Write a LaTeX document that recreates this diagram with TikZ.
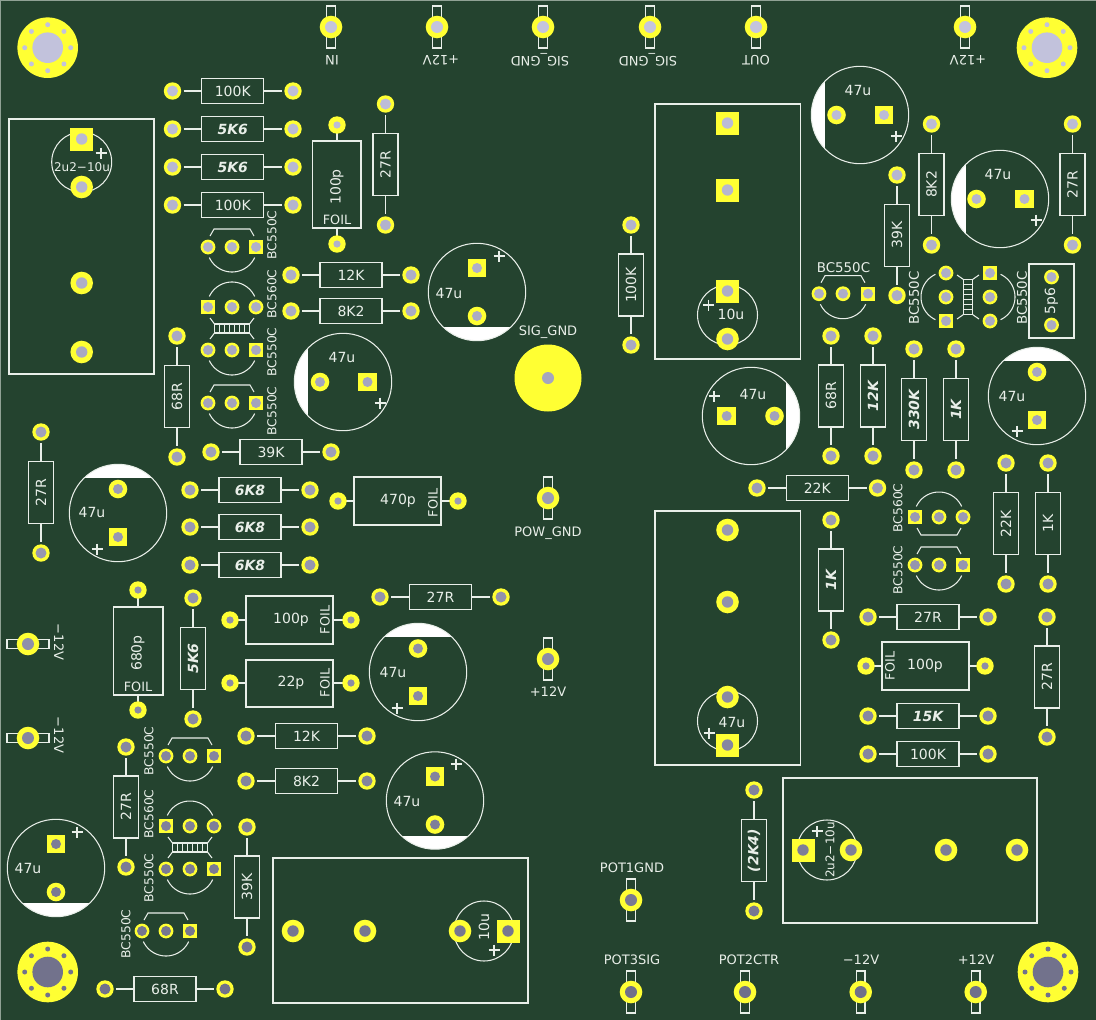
\documentclass[tikz,border=0pt]{standalone}
\usepackage{fontspec}
\setmainfont{DejaVu Sans}
\definecolor{board}{HTML}{24432F}
\definecolor{silk}{HTML}{E9EFE9}
\definecolor{copper}{HTML}{FFFF33}
\definecolor{holeA}{HTML}{C6C6E0}
\definecolor{holeB}{HTML}{6E6E88}
\newcount\nodeno
\tikzset{
  silkline/.style={draw=silk,line width=1.05pt},
  lbl/.style={text=silk,inner sep=0pt,font=\fontsize{13}{14}\selectfont},
  tl/.style={lbl,font=\fontsize{12.3}{13}\selectfont},
  tr/.style={lbl,font=\fontsize{13.4}{14}\selectfont},
  val/.style={lbl,font=\fontsize{14}{15}\selectfont},
  bval/.style={lbl,font=\fontsize{14}{15}\selectfont\bfseries\itshape},
  sml/.style={lbl,font=\fontsize{12}{13}\selectfont},
  foil/.style={lbl,font=\fontsize{12.8}{13}\selectfont},
}
\newcommand\Lab[4][]{\global\advance\nodeno by 1 \node[lbl,#1] (n\the\nodeno) at (#2,#3) {#4};}
\newcommand\HoleCol[1]{\pgfmathsetmacro\hct{max(0,min(100,(#1)/10.2))}\colorlet{hc}{holeB!\hct!holeA}}
\newcommand\RP[4]{\HoleCol{#2}\fill[copper] (#1,#2) circle[radius=#3];\fill[hc] (#1,#2) circle[radius=#4];}
\newcommand\SP[4]{\HoleCol{#2}\fill[copper] ({#1-#3/2},{#2-#3/2}) rectangle ({#1+#3/2},{#2+#3/2});\fill[hc] (#1,#2) circle[radius=#4];}
% resistors
\newcommand\ResH[5][val]{\pgfmathsetmacro\mc{(#2+#3)/2}
  \draw[silkline] ({#2+11},#4)--({\mc-31},#4) ({\mc+31},#4)--({#3-11},#4);
  \draw[silkline] ({\mc-31},{#4-12.5}) rectangle ({\mc+31},{#4+12.5});
  \RP{#2}{#4}{8.7}{5.5}\RP{#3}{#4}{8.7}{5.5}
  \Lab[#1]{\mc}{#4}{#5}}
\newcommand\ResV[5][val]{\pgfmathsetmacro\mc{(#3+#4)/2}
  \draw[silkline] (#2,{#3+11})--(#2,{\mc-31}) (#2,{\mc+31})--(#2,{#4-11});
  \draw[silkline] ({#2-12.5},{\mc-31}) rectangle ({#2+12.5},{\mc+31});
  \RP{#2}{#3}{8.7}{5.5}\RP{#2}{#4}{8.7}{5.5}
  \Lab[#1,rotate=90]{#2}{\mc}{#5}}
% connector pads with tab
\newcommand\ConV[2]{\draw[silkline] ({#1-4.3},{#2-21}) rectangle ({#1+4.3},{#2+21});\RP{#1}{#2}{11.3}{6}}
\newcommand\ConH[2]{\draw[silkline] ({#1-21},{#2-4.3}) rectangle ({#1+21},{#2+4.3});\RP{#1}{#2}{11.3}{6}}
% electrolytic: centre, band rectangle
\newcommand\Elec[6]{\begin{scope}\clip (#1,#2) circle[radius=48.7];\fill[white] (#3,#4) rectangle (#5,#6);\end{scope}
  \draw[silkline] (#1,#2) circle[radius=48.7];}
\newcommand\Plus[3][5.5]{\draw[draw=silk,line width=1.3pt] ({#2-#1},#3)--({#2+#1},#3) (#2,{#3-#1})--(#2,{#3+#1});}
\newcommand\SmallCap[2]{\draw[silkline] (#1,#2) circle[radius=30];}
% transistor shapes in a local frame
\newcommand\ArcPlot[2]{plot[domain=#1:#2,samples=30,smooth] ({25*cos(\x)},{25*sin(\x)})}
\newcommand\TOflat[3]{\begin{scope}[shift={(#1,#2)},rotate=#3]
  \draw[silkline] (-22,-11)--(-18,-18)--(18,-18)--(22,-11);
  \draw[silkline] \ArcPlot{25}{155};
  \end{scope}}
% heat-coupled pair, vertical stack: cx, upper y, lower y
\newcommand\PairV[3]{\pgfmathsetmacro\ym{(#2+#3)/2}
  \begin{scope}[shift={(#1,#2)}]\draw[silkline] \ArcPlot{205}{335};\end{scope}
  \begin{scope}[shift={(#1,#3)}]\draw[silkline] \ArcPlot{25}{155};\end{scope}
  \draw[silkline] ({#1-17.5},{\ym-4.5}) rectangle ({#1+17.5},{\ym+4.5});
  \foreach \k in {-12.5,-7.5,-2.5,2.5,7.5,12.5}{\draw[draw=silk,line width=.8pt] ({#1+\k},{\ym-4.5})--({#1+\k},{\ym+4.5});}
  \draw[silkline] ({#1-22},{#2+11})--({#1-17.5},{\ym-4.5}) ({#1+22},{#2+11})--({#1+17.5},{\ym-4.5});
  \draw[silkline] ({#1-22},{#3-11})--({#1-17.5},{\ym+4.5}) ({#1+22},{#3-11})--({#1+17.5},{\ym+4.5});}
\newcommand\TP[2]{\RP{#1}{#2}{7.4}{5}}
\newcommand\TS[2]{\SP{#1}{#2}{14.4}{5}}
\newcommand\EP[2]{\RP{#1}{#2}{9.3}{5}}
\newcommand\ES[2]{\SP{#1}{#2}{18.7}{5}}
\newcommand\BP[2]{\RP{#1}{#2}{11.3}{5.7}}
\newcommand\BS[2]{\SP{#1}{#2}{23}{5.7}}
\newcommand\Mount[2]{\HoleCol{#2}\fill[copper] (#1,#2) circle[radius=30.3];\fill[hc] (#1,#2) circle[radius=15.3];
  \foreach \a in {0,45,...,315}{\fill[hc] ({#1+23*cos(\a)},{#2+23*sin(\a)}) circle[radius=2.5];}}
\newcommand\FP[2]{\RP{#1}{#2}{8.7}{3.6}}
\begin{document}
\begin{tikzpicture}[x=1pt,y=-1pt]
\useasboundingbox (0,0) rectangle (1096,1020);
\fill[board] (0,0) rectangle (1096,1020);
\draw[draw=silk!55!board,line width=1pt] (0,.5)--(1096,.5) (.5,0)--(.5,1020);
% mounting
\Mount{47.7}{47.7}\Mount{1047}{47.7}\Mount{47.7}{972}\Mount{1048}{972}
\fill[copper] (548,378) circle[radius=33.5];\HoleCol{378}\fill[hc] (548,378) circle[radius=6];
% relay boxes
\draw[silkline] (9,119) rectangle (154,374);
\draw[silkline] (655,104) rectangle (800.5,359);
\draw[silkline] (655,511) rectangle (800.5,765);
\draw[silkline] (273,858) rectangle (528,1003);
\draw[silkline] (783,778) rectangle (1037,923);
\SmallCap{81.7}{162}\BS{81.7}{139}\BP{81.7}{187}\BP{81.7}{283}\BP{81.7}{352}
\Plus{101}{153}\Lab[sml]{82}{167}{2u2−10u}
\SmallCap{727.5}{315}\BS{727.5}{123}\BS{727.5}{190}\BS{727.5}{291}\BP{727.5}{339}
\Plus{708.7}{305}\Lab[val]{731}{314.5}{10u}
\SmallCap{727.5}{721}\BP{727.5}{530}\BP{727.5}{602}\BP{727.5}{697}\BS{727.5}{745}
\Plus{709}{733}\Lab[val]{732}{722}{47u}
\SmallCap{484}{931}\BP{293}{931}\BP{365}{931}\BP{460}{931}\BS{508}{931}
\Plus{494}{950}\Lab[val,rotate=90]{484}{927}{10u}
\SmallCap{827}{850}\BS{803}{850}\BP{851}{850}\BP{946}{850}\BP{1017}{850}
\Plus{817}{831}\Lab[sml,rotate=90]{830}{850}{2u2−10u}
% connectors
\ConV{331}{27}\Lab[rotate=180]{332}{60}{IN}
\ConV{437}{27}\Lab[rotate=180]{441}{60}{+12V}
\ConV{543}{27}\Lab[rotate=180]{540}{60}{SIG\_GND}
\ConV{650}{27}\Lab[rotate=180]{648}{60}{SIG\_GND}
\ConV{756}{27}\Lab[rotate=180]{756}{60}{OUT}
\ConV{965}{27}\Lab[rotate=180]{968}{60}{+12V}
\ConH{28}{644}\Lab[rotate=-90]{59}{642}{−12V}
\ConH{28}{738}\Lab[rotate=-90]{59}{735}{−12V}
\ConV{548}{498}\Lab{548}{533}{POW\_GND}
\ConV{548}{659}\Lab{548}{692}{+12V}
\ConV{631}{900}\Lab{632}{868}{POT1GND}
\ConV{631}{992}\Lab{632}{960}{POT3SIG}
\ConV{745}{992}\Lab{749}{960}{POT2CTR}
\ConV{860.7}{992}\Lab{861}{960}{−12V}
\ConV{975.7}{992}\Lab{976}{960}{+12V}
\Lab{548}{332}{SIG\_GND}
% horizontal resistors
\ResH{172.5}{293}{91}{100K}
\ResH[bval]{172.5}{293}{129}{5K6}
\ResH[bval]{172.5}{293}{167}{5K6}
\ResH{172.5}{293}{205}{100K}
\ResH{291}{411}{275}{12K}
\ResH{291}{411}{311}{8K2}
\ResH{211}{331}{452}{39K}
\ResH[bval]{190}{310}{490}{6K8}
\ResH[bval]{190}{310}{527}{6K8}
\ResH[bval]{190}{310}{565}{6K8}
\ResH{380}{501}{597}{27R}
\ResH{246}{367}{736}{12K}
\ResH{246}{367}{781}{8K2}
\ResH{105}{225}{989}{68R}
\ResH{757}{877.5}{488}{22K}
\ResH{868}{988}{617}{27R}
\ResH[bval]{868}{988}{716}{15K}
\ResH{868}{988}{754}{100K}
% vertical resistors
\ResV{385.5}{104}{225}{27R}
\ResV{631}{225}{345}{100K}
\ResV{897}{175}{295.5}{39K}
\ResV{931.5}{124}{245}{8K2}
\ResV{1072.5}{124}{245}{27R}
\ResV{177}{336}{457}{68R}
\ResV{41}{432}{553}{27R}
\ResV{831}{336}{456}{68R}
\ResV[bval]{873}{336}{456}{12K}
\ResV[bval]{914}{349}{470}{330K}
\ResV[bval]{956}{349}{470}{1K}
\ResV{1006}{463}{584}{22K}
\ResV{1048}{463}{584}{1K}
\ResV[bval]{831}{520}{640}{1K}
\ResV{1047}{617}{737}{27R}
\ResV[bval]{193}{598}{719}{5K6}
\ResV{126}{747}{867}{27R}
\ResV{247}{827}{947}{39K}
\ResV[bval]{754}{790}{911}{(2K4)}
% film caps
\draw[silkline] (337,125)--(337,141) (337,228)--(337,244);
\draw[silkline] (312.5,141) rectangle (361,228);\FP{337}{125}\FP{337}{244}
\Lab[val,rotate=90]{337}{187}{100p}\Lab[foil]{337}{220}{FOIL}
\draw[silkline] (138,590)--(138,607) (138,695)--(138,710);
\draw[silkline] (113.5,607) rectangle (163,695);\FP{138}{590}\FP{138}{710}
\Lab[val,rotate=90]{138}{653}{680p}\Lab[foil]{138}{687}{FOIL}
\draw[silkline] (338,501)--(354,501) (441,501)--(458,501);
\draw[silkline] (354,477) rectangle (441,525);\FP{338}{501}\FP{458}{501}
\Lab[val]{398}{501}{470p}\Lab[foil,rotate=90]{433}{503}{FOIL}
\draw[silkline] (230,620)--(246,620) (333,620)--(351,620);
\draw[silkline] (246,596) rectangle (333,644);\FP{230}{620}\FP{351}{620}
\Lab[val]{291}{620}{100p}\Lab[foil,rotate=90]{325}{620}{FOIL}
\draw[silkline] (230,683)--(246,683) (333,683)--(351,683);
\draw[silkline] (246,660) rectangle (333,707);\FP{230}{683}\FP{351}{683}
\Lab[val]{291}{683}{22p}\Lab[foil,rotate=90]{325}{683}{FOIL}
\draw[silkline] (866,666)--(882,666) (969,666)--(985,666);
\draw[silkline] (882,642) rectangle (969,690);\FP{866}{666}\FP{985}{666}
\Lab[val]{925}{666}{100p}\Lab[foil,rotate=90]{890}{666}{FOIL}
\draw[silkline] (1029,264) rectangle (1074,338);\TP{1051.5}{277}\TP{1051.5}{325}
\Lab[val,rotate=90]{1051.5}{301}{5p6}
% electrolytics
\Elec{860}{115}{800}{60}{825}{170}\EP{836.5}{115}\ES{884}{115}\Lab[val]{858}{90}{47u}\Plus{896}{136}
\Elec{1000}{199}{940}{140}{966}{260}\EP{976.5}{199}\ES{1024.5}{199}\Lab[val]{998}{174}{47u}\Plus{1036}{220}
\Elec{477}{292}{420}{327}{535}{350}\ES{477}{268}\EP{477}{316}\Lab[val]{449}{293}{47u}\Plus{499}{256}
\Elec{343}{382}{285}{325}{308}{440}\EP{320}{382}\ES{367.5}{382}\Lab[val]{342}{357}{47u}\Plus{380}{403}
\Elec{118}{513}{60}{455}{175}{478}\EP{118}{489}\ES{118}{537}\Lab[val]{92}{512}{47u}\Plus{97}{549}
\Elec{1037}{396}{980}{340}{1095}{361}\EP{1037}{372}\ES{1037}{420}\Lab[val]{1012}{396}{47u}\Plus{1017}{431}
\Elec{751}{416}{785.7}{360}{810}{475}\ES{726.7}{416}\EP{774.5}{416}\Lab[val]{753}{394}{47u}\Plus{714}{396}
\Elec{418}{672}{360}{615}{475}{637}\EP{418}{648.5}\ES{418}{696}\Lab[val]{393}{672}{47u}\Plus{397}{708}
\Elec{435}{800.5}{380}{836}{495}{860}\ES{435}{776.5}\EP{435}{824.5}\Lab[val]{407}{801}{47u}\Plus{456}{764}
\Elec{56}{868}{0}{903}{110}{925}\ES{56}{844}\EP{56}{892}\Lab[val]{28}{868}{47u}\Plus{77}{832}
% transistors, upper left
\TOflat{232}{247}{0}\TP{208}{247}\TP{232}{247}\TS{256}{247}
\Lab[tl,rotate=90]{272}{235}{BC550C}
\PairV{232}{307}{350}\TS{208}{307}\TP{232}{307}\TP{256}{307}\TP{208}{350}\TP{232}{350}\TS{256}{350}
\Lab[tl,rotate=90]{272}{294}{BC560C}\Lab[tl,rotate=90]{272}{352}{BC550C}
\TOflat{232}{403}{0}\TP{208}{403}\TP{232}{403}\TS{256}{403}
\Lab[tl,rotate=90]{272}{411}{BC550C}
% transistors, lower left
\TOflat{190}{756}{0}\TP{166}{756}\TP{190}{756}\TS{214}{756}
\Lab[tl,rotate=90]{149}{751}{BC550C}
\PairV{190}{826}{869}\TS{166}{826}\TP{190}{826}\TP{214}{826}\TP{166}{869}\TP{190}{869}\TS{214}{869}
\Lab[tl,rotate=90]{149}{814}{BC560C}\Lab[tl,rotate=90]{149}{878}{BC550C}
\TOflat{166}{931}{0}\TP{142}{931}\TP{166}{931}\TS{190}{931}
\Lab[tl,rotate=90]{126}{934}{BC550C}
% transistors, right
\TOflat{843}{293.7}{0}\TP{819}{293.7}\TP{843}{293.7}\TS{868}{293.7}
\Lab[tr]{843.5}{268}{BC550C}
\begin{scope}[shift={(968,297)},rotate=90]\PairV{0}{-22}{22}\end{scope}
\TP{946}{273}\TP{946}{297}\TS{946}{321}\TS{990}{273}\TP{990}{297}\TP{990}{321}
\Lab[tr,rotate=90]{914}{298}{BC550C}\Lab[tr,rotate=90]{1022}{298}{BC550C}
\TOflat{939}{517}{180}\TS{915}{517}\TP{939}{517}\TP{963}{517}
\Lab[tl,rotate=90]{898}{508}{BC560C}
\TOflat{939}{565}{0}\TP{915}{565}\TP{939}{565}\TS{963}{565}
\Lab[tl,rotate=90]{898}{570}{BC550C}
\end{tikzpicture}
\end{document}
